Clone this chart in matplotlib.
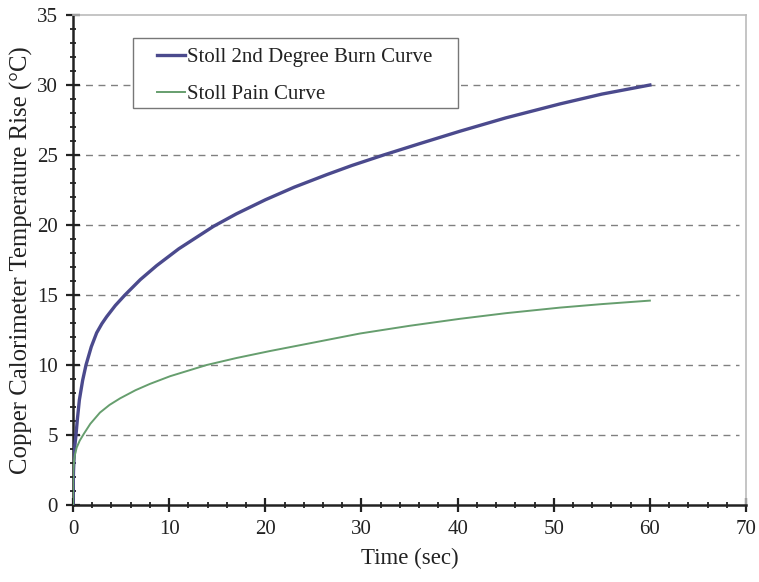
import matplotlib
matplotlib.use("Agg")
import matplotlib.pyplot as plt
from matplotlib.patches import Rectangle
from matplotlib.ticker import MultipleLocator

# values
burn_t = [0, 0.02, 0.05, 0.1, 0.2, 0.31, 0.45, 0.66, 1.0, 1.35, 1.9, 2.46, 3.0, 3.5, 4.4, 5.4,
          7, 8.7, 11, 14.6, 17, 20, 23, 26.4, 29, 32.3, 36, 40.25, 45, 50.65, 55, 60]
burn = [0, 1.5, 2.4, 3.2, 4.3, 5.0, 6.1, 7.5, 8.9, 10.0, 11.3, 12.3, 12.95, 13.45, 14.25, 15.0,
        16.1, 17.1, 18.3, 19.9, 20.8, 21.8, 22.7, 23.6, 24.25, 25.0, 25.8, 26.7, 27.65,
        28.65, 29.35, 30.0]

pain_t = [0, 0.01, 0.03, 0.1, 0.2, 0.38, 0.7, 1.14, 1.8, 2.8, 3.8, 4.9, 6.5, 8, 10.1, 12,
          13.9, 17, 20.5, 25, 29.85, 35, 40.25, 45, 50.65, 55, 60]
pain = [0, 1.6, 2.4, 3.1, 3.6, 4.1, 4.6, 5.1, 5.8, 6.6, 7.15, 7.62, 8.2, 8.65, 9.2, 9.6,
        10.0, 10.5, 11.0, 11.6, 12.25, 12.8, 13.3, 13.7, 14.1, 14.35, 14.6]

plt.rcParams['font.family'] = ['Liberation Serif', 'DejaVu Serif']

fig = plt.figure(figsize=(7.59, 5.82), dpi=100)
ax = fig.add_axes([0.0962, 0.1323, 0.8867, 0.8419])

ax.plot(burn_t, burn, color="#4b4a8d", lw=2.4, label="Stoll 2nd Degree Burn Curve",
        zorder=3, solid_joinstyle="round")
ax.plot(pain_t, pain, color="#669e6e", lw=1.4, label="Stoll Pain Curve",
        zorder=3, solid_joinstyle="round")

ax.set_xlim(0, 70)
ax.set_ylim(0, 35)
ax.xaxis.set_major_locator(MultipleLocator(10))
ax.xaxis.set_minor_locator(MultipleLocator(2))
ax.yaxis.set_major_locator(MultipleLocator(5))
ax.yaxis.set_minor_locator(MultipleLocator(1))

for y in [5, 10, 15, 20, 25, 30]:
    ax.plot([0, 69.3], [y, y], color="#808080", lw=1.0, ls=(0, (5, 4)), zorder=1)

for s in ["top", "right"]:
    ax.spines[s].set_color("#bbbbbb")
    ax.spines[s].set_linewidth(1.2)
for s in ["left", "bottom"]:
    ax.spines[s].set_color("#222222")
    ax.spines[s].set_linewidth(1.8)

ax.tick_params(which="major", direction="inout", length=10, width=1.6, color="#222222",
               labelsize=15, colors="#222222")
ax.tick_params(which="minor", direction="inout", length=5, width=1.3, color="#222222")
ax.tick_params(axis="y", pad=6)
ax.tick_params(axis="x", pad=6)

ax.set_xlabel("Time (sec)", fontsize=16.5, color="#222222", labelpad=6)
ax.set_ylabel("Copper Calorimeter Temperature Rise (°C)", fontsize=17.8, color="#222222", labelpad=3)

# legend box drawn on its own, entries placed inside it
ax.add_patch(Rectangle((0.0892, 0.810), 0.483, 0.1429, transform=ax.transAxes,
                       facecolor="white", edgecolor="#777777", lw=1.0, zorder=4))
leg = ax.legend(loc="upper left", bbox_to_anchor=(0.1248, 0.934), borderaxespad=0,
                frameon=False, fontsize=15, handlelength=1.35, handletextpad=0.1,
                borderpad=0, labelspacing=0.85)
leg.set_zorder(5)
for t in leg.get_texts():
    t.set_color("#222222")

fig.savefig("out.png", dpi=100)
